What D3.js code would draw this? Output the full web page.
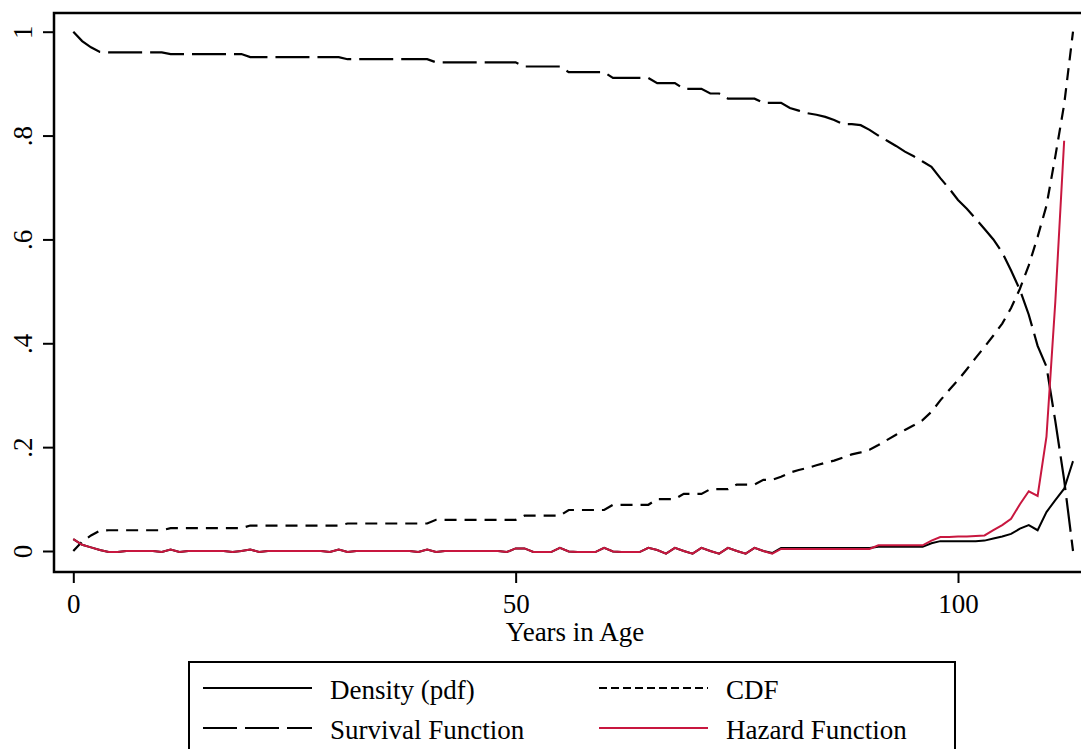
<!DOCTYPE html>
<html>
<head>
<meta charset="utf-8">
<script src="https://cdn.jsdelivr.net/npm/d3@7"></script>
<style>
  html, body { margin: 0; padding: 0; background: #fff; overflow: hidden; }
  svg { display: block; font-family: "Liberation Serif", "Times New Roman", serif; }
</style>
</head>
<body>
<div id="chart"></div>
<script>
// ages 0..113 (one value per year)
const ages = d3.range(0, 114);

const survival = [
  1.0, 0.982, 0.97, 0.961,
  0.96, 0.96, 0.96, 0.96, 0.96, 0.96, 0.96,
  0.957, 0.957, 0.957, 0.957, 0.957, 0.957, 0.957, 0.957, 0.957,
  0.951, 0.951, 0.951, 0.951, 0.951, 0.951, 0.951, 0.951, 0.951, 0.951, 0.951,
  0.947, 0.947, 0.947, 0.947, 0.947, 0.947, 0.947, 0.947, 0.947, 0.947,
  0.941, 0.941, 0.941, 0.941, 0.941, 0.941, 0.941, 0.941, 0.941, 0.941,
  0.933, 0.933, 0.933, 0.933, 0.933,
  0.922, 0.922, 0.922, 0.922, 0.922,
  0.911, 0.911, 0.911, 0.911, 0.911,
  0.901, 0.901, 0.901,
  0.89, 0.89, 0.89,
  0.881, 0.881,
  0.871, 0.871, 0.871, 0.871,
  0.863, 0.863, 0.863,
  0.853, 0.848, 0.843, 0.84, 0.836, 0.83, 0.822, 0.822, 0.82, 0.811,
  0.80, 0.79, 0.78, 0.769, 0.76, 0.75, 0.74, 0.718, 0.698, 0.676,
  0.659, 0.64, 0.62, 0.60, 0.575, 0.54, 0.503, 0.455, 0.395, 0.355,
  0.25, 0.137, 0.0
];

const cdf = [
  0.0, 0.018, 0.03, 0.039,
  0.04, 0.04, 0.04, 0.04, 0.04, 0.04, 0.04,
  0.044, 0.044, 0.044, 0.044, 0.044, 0.044, 0.044, 0.044, 0.044,
  0.049, 0.049, 0.049, 0.049, 0.049, 0.049, 0.049, 0.049, 0.049, 0.049, 0.049,
  0.053, 0.053, 0.053, 0.053, 0.053, 0.053, 0.053, 0.053, 0.053, 0.053,
  0.06, 0.06, 0.06, 0.06, 0.06, 0.06, 0.06, 0.06, 0.06, 0.06,
  0.068, 0.068, 0.068, 0.068, 0.068,
  0.079, 0.079, 0.079, 0.079, 0.079,
  0.089, 0.089, 0.089, 0.089, 0.089,
  0.1, 0.1, 0.1,
  0.11, 0.11, 0.11,
  0.119, 0.119, 0.119,
  0.128, 0.128, 0.128,
  0.137, 0.137,
  0.143, 0.151, 0.156, 0.16, 0.165, 0.17, 0.174, 0.18, 0.186, 0.19,
  0.195, 0.204, 0.214, 0.224, 0.233, 0.242, 0.252, 0.268, 0.29, 0.31,
  0.329, 0.35, 0.372, 0.393, 0.415, 0.438, 0.468, 0.505, 0.55, 0.605,
  0.665, 0.76, 0.86, 1.0
];

// hazard is defined for ages 0..112
const hazard = [
  0.023, 0.012, 0.007, 0.002, -0.002, -0.002, 0, 0, 0, 0,
  -0.002, 0.003, -0.002, 0, 0, 0, 0, 0, -0.002, 0,
  0.003, -0.002, 0, 0, 0, 0, 0, 0, 0, -0.002,
  0.003, -0.002, 0, 0, 0, 0, 0, 0, 0, -0.002,
  0.003, -0.002, 0, 0, 0, 0, 0, 0, 0, -0.002,
  0.005, 0.005, -0.002, -0.002, -0.002, 0.006, -0.001, -0.002, -0.002, -0.002,
  0.006, -0.001, -0.002, -0.002, -0.002, 0.006, 0.002, -0.005, 0.006, 0,
  -0.005, 0.006, 0, -0.005, 0.006, 0, -0.005, 0.006, 0, -0.005,
  0.004, 0.004, 0.004, 0.004, 0.004, 0.004, 0.004, 0.004, 0.004, 0.004,
  0.004, 0.011, 0.011, 0.011, 0.011, 0.011, 0.011, 0.02, 0.027, 0.027,
  0.028, 0.028, 0.029, 0.03, 0.04, 0.05, 0.062, 0.09, 0.115, 0.106,
  0.22, 0.48, 0.79
];

const density = [
  0.023, 0.012, 0.007, 0.002, -0.002, -0.002, 0, 0, 0, 0,
  -0.002, 0.003, -0.002, 0, 0, 0, 0, 0, -0.002, 0,
  0.003, -0.002, 0, 0, 0, 0, 0, 0, 0, -0.002,
  0.003, -0.002, 0, 0, 0, 0, 0, 0, 0, -0.002,
  0.003, -0.002, 0, 0, 0, 0, 0, 0, 0, -0.002,
  0.005, 0.005, -0.002, -0.002, -0.002, 0.006, -0.001, -0.002, -0.002, -0.002,
  0.006, -0.001, -0.002, -0.002, -0.002, 0.006, 0.002, -0.005, 0.006, 0,
  -0.005, 0.006, 0, -0.005, 0.006, 0, -0.005, 0.006, 0, -0.004,
  0.006, 0.006, 0.006, 0.006, 0.006, 0.006, 0.006, 0.006, 0.006, 0.006,
  0.006, 0.008, 0.008, 0.008, 0.008, 0.008, 0.008, 0.015, 0.019, 0.019,
  0.019, 0.019, 0.019, 0.02, 0.024, 0.028, 0.033, 0.043, 0.05, 0.04,
  0.075, 0.098, 0.12, 0.173
];

const xTicks = [0, 50, 100];
const yTicks = [0, 0.2, 0.4, 0.6, 0.8, 1];
const yTickLabels = ["0", ".2", ".4", ".6", ".8", "1"];
const xTitle = "Years in Age";

const seriesNames = ["Density (pdf)", "CDF", "Survival Function", "Hazard Function"];

(() => {
  const width = 1081, height = 749;
  const RED = "#c8173f";
  const FONT = 27;

  const svg = d3.select("#chart").append("svg")
    .attr("width", width)
    .attr("height", height);

  const x = d3.scaleLinear().domain([0, 100]).range([73.3, 958]);
  const y = d3.scaleLinear().domain([0, 1]).range([551, 31.7]);

  // plot frame (right side runs off the picture)
  svg.append("rect")
    .attr("x", 54).attr("y", 13)
    .attr("width", 1200).attr("height", 559)
    .attr("fill", "none")
    .attr("stroke", "#000")
    .attr("stroke-width", 2.5);

  // y axis
  const yAxis = d3.axisLeft(y)
    .tickValues(yTicks)
    .tickSize(11)
    .tickSizeOuter(0)
    .tickFormat((d, i) => yTickLabels[i]);

  svg.append("g")
    .attr("transform", "translate(54,0)")
    .call(yAxis)
    .call(g => g.select(".domain").remove())
    .call(g => g.selectAll("line").attr("stroke", "#000").attr("stroke-width", 2))
    .call(g => g.selectAll("text")
      .attr("x", null).attr("dy", null)
      .attr("fill", "#000")
      .style("font-size", FONT + "px")
      .style("font-family", "Liberation Serif, Times New Roman, serif")
      .attr("text-anchor", "middle")
      .attr("transform", "translate(-22,0) rotate(-90)"));

  // x axis
  const xAxis = d3.axisBottom(x)
    .tickValues(xTicks)
    .tickSize(11)
    .tickSizeOuter(0)
    .tickFormat(d3.format("d"));

  svg.append("g")
    .attr("transform", "translate(0,572)")
    .call(xAxis)
    .call(g => g.select(".domain").remove())
    .call(g => g.selectAll("line").attr("stroke", "#000").attr("stroke-width", 2))
    .call(g => g.selectAll("text")
      .attr("y", 41).attr("dy", null)
      .attr("fill", "#000")
      .style("font-size", FONT + "px")
      .style("font-family", "Liberation Serif, Times New Roman, serif"));

  svg.append("text")
    .attr("x", 575).attr("y", 641)
    .attr("text-anchor", "middle")
    .style("font-size", FONT + "px")
    .text(xTitle);

  // lines
  const line = d3.line()
    .x(d => x(d[0]))
    .y(d => y(d[1]));

  const pairs = vals => vals.map((v, i) => [ages[i], v]);

  svg.append("path")
    .datum(pairs(density))
    .attr("fill", "none")
    .attr("stroke", "#000")
    .attr("stroke-width", 2)
    .attr("d", line);

  svg.append("path")
    .datum(pairs(survival))
    .attr("fill", "none")
    .attr("stroke", "#000")
    .attr("stroke-width", 2.2)
    .attr("stroke-dasharray", "34 8")
    .attr("d", line);

  svg.append("path")
    .datum(pairs(cdf))
    .attr("fill", "none")
    .attr("stroke", "#000")
    .attr("stroke-width", 2.2)
    .attr("stroke-dasharray", "12 8")
    .attr("d", line);

  svg.append("path")
    .datum(pairs(hazard))
    .attr("fill", "none")
    .attr("stroke", RED)
    .attr("stroke-width", 2)
    .attr("d", line);

  // legend
  const lg = svg.append("g");
  lg.append("rect")
    .attr("x", 189).attr("y", 662)
    .attr("width", 766).attr("height", 120)
    .attr("fill", "#fff")
    .attr("stroke", "#000")
    .attr("stroke-width", 2);

  const items = [
    { name: seriesNames[0], x0: 203, y: 688, dash: null, color: "#000" },
    { name: seriesNames[1], x0: 599, y: 688, dash: "8 4", color: "#000" },
    { name: seriesNames[2], x0: 203, y: 728, dash: "34 8", color: "#000" },
    { name: seriesNames[3], x0: 599, y: 728, dash: null, color: RED }
  ];

  items.forEach(it => {
    lg.append("line")
      .attr("x1", it.x0).attr("x2", it.x0 + 109)
      .attr("y1", it.y).attr("y2", it.y)
      .attr("stroke", it.color)
      .attr("stroke-width", 2)
      .attr("stroke-dasharray", it.dash);
    lg.append("text")
      .attr("x", it.x0 + 127).attr("y", it.y + 11)
      .style("font-size", FONT + "px")
      .text(it.name);
  });
})();
</script>
</body>
</html>
